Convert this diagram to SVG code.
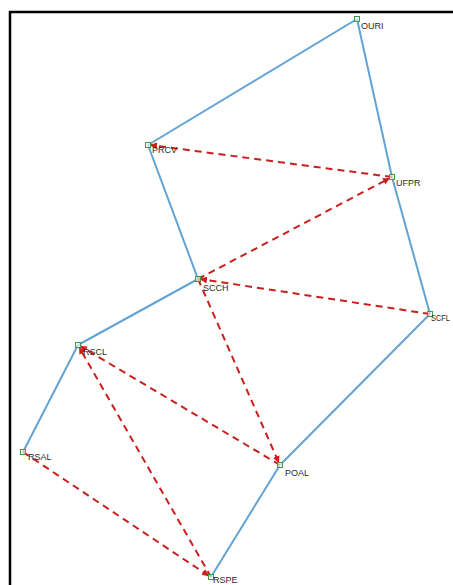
<svg xmlns="http://www.w3.org/2000/svg" width="453" height="585" viewBox="0 0 453 585">
<style>
.frame{fill:none;stroke:#000;stroke-width:2.5}
.solid{stroke:#62a3d3;stroke-width:2;fill:none}
.dash{stroke:#c8201e;stroke-width:2;stroke-dasharray:7,5;fill:none;marker-end:url(#ah)}
.node rect{fill:#fff;fill-opacity:0.6;stroke:#3d9a45;stroke-width:1}
.node text{font-family:"Liberation Sans",Arial,sans-serif;font-size:9px;fill:#2a2a2a}
</style>
<defs>
<marker id="ah" viewBox="0 0 10 10" refX="10" refY="5" markerWidth="3.5" markerHeight="3.5" orient="auto" markerUnits="strokeWidth">
<path d="M0,0 L10,5 L0,10 z" fill="#c8201e"/>
</marker>
</defs>
<rect class="frame" x="10" y="12" width="460" height="590"/>
<g id="connectors">
<line class="solid" x1="357" y1="19" x2="148" y2="145"/>
<line class="solid" x1="357" y1="19" x2="392" y2="177"/>
<line class="solid" x1="392" y1="177" x2="430" y2="314"/>
<line class="solid" x1="148" y1="145" x2="198" y2="279"/>
<line class="solid" x1="198" y1="279" x2="78" y2="345"/>
<line class="solid" x1="78" y1="345" x2="23" y2="452"/>
<line class="solid" x1="430" y1="314" x2="280" y2="465"/>
<line class="solid" x1="280" y1="465" x2="211" y2="577"/>
<line class="dash" x1="392" y1="177" x2="150" y2="145"/>
<line class="dash" x1="198" y1="279" x2="390" y2="178"/>
<line class="dash" x1="430" y1="314" x2="200" y2="279"/>
<line class="dash" x1="198" y1="279" x2="279" y2="463"/>
<line class="dash" x1="280" y1="465" x2="80" y2="346"/>
<line class="dash" x1="211" y1="577" x2="79" y2="347"/>
<line class="dash" x1="23" y1="452" x2="209" y2="576"/>
</g>
<g id="OURI" class="node"><rect x="354.5" y="16.5" width="5" height="5"/><text x="361" y="29">OURI</text></g>
<g id="PRCV" class="node"><rect x="145.5" y="142.5" width="5" height="5"/><text x="152" y="153">PRCV</text></g>
<g id="UFPR" class="node"><rect x="389.5" y="174.5" width="5" height="5"/><text x="396" y="186">UFPR</text></g>
<g id="SCCH" class="node"><rect x="195.5" y="276.5" width="5" height="5"/><text x="203" y="291">SCCH</text></g>
<g id="SCFL" class="node"><rect x="427.5" y="311.5" width="5" height="5"/><text x="431" y="321" textLength="19" lengthAdjust="spacingAndGlyphs">SCFL</text></g>
<g id="RSCL" class="node"><rect x="75.5" y="342.5" width="5" height="5"/><text x="83" y="355">RSCL</text></g>
<g id="RSAL" class="node"><rect x="20.5" y="449.5" width="5" height="5"/><text x="28" y="460">RSAL</text></g>
<g id="POAL" class="node"><rect x="277.5" y="462.5" width="5" height="5"/><text x="285" y="476">POAL</text></g>
<g id="RSPE" class="node"><rect x="208.5" y="574.5" width="5" height="5"/><text x="213" y="583">RSPE</text></g>
</svg>
